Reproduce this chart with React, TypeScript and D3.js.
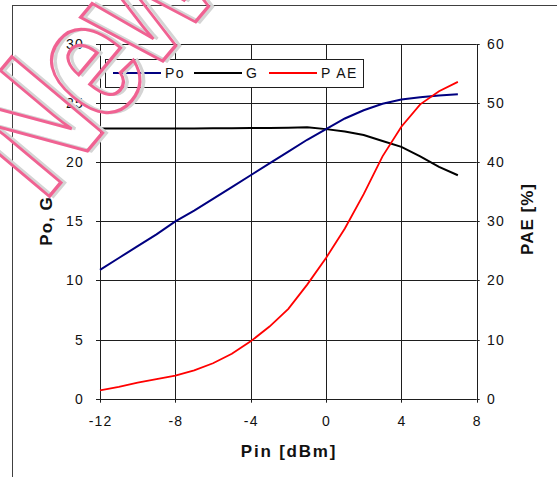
import React from "react";
import * as d3 from "d3";

// Input power sweep (dBm)
const pin = [-12, -11, -10, -9, -8, -7, -6, -5, -4, -3, -2, -1, 0, 1, 2, 3, 4, 5, 6, 7];
// Output power (dBm)
const po = [10.9, 11.9, 12.9, 13.9, 15.0, 15.9, 16.9, 17.9, 18.9, 19.9, 20.9, 21.9, 22.8, 23.7, 24.4, 24.95, 25.3, 25.5, 25.65, 25.75];
// Gain (dB)
const gain = [22.85, 22.85, 22.85, 22.85, 22.85, 22.85, 22.87, 22.88, 22.9, 22.9, 22.92, 22.95, 22.8, 22.6, 22.3, 21.8, 21.3, 20.5, 19.6, 18.9];
// Power-added efficiency (%)
const pae = [1.4, 2.0, 2.7, 3.3, 3.9, 4.8, 6.0, 7.6, 9.7, 12.2, 15.2, 19.3, 23.8, 28.8, 34.6, 41.0, 46.0, 49.8, 52.0, 53.6];

const xTicks = [-12, -8, -4, 0, 4, 8];
const leftTicks = [0, 5, 10, 15, 20, 25, 30];
const rightTicks = [0, 10, 20, 30, 40, 50, 60];

const legendItems = [
  { label: "Po", color: "#000080" },
  { label: "G", color: "#000000" },
  { label: "P AE", color: "#ff0000" },
];

const FONT = "'Liberation Sans', Arial, sans-serif";

export default function App() {
  const W = 557;
  const H = 477;
  const left = 100, right = 476.7, top = 44, bottom = 398.7;

  const x = d3.scaleLinear().domain([-12, 8]).range([left, right]);
  const yL = d3.scaleLinear().domain([0, 30]).range([bottom, top]);
  const yR = d3.scaleLinear().domain([0, 60]).range([bottom, top]);

  const lineL = d3.line<number>().x((_, i) => x(pin[i])).y((d) => yL(d));
  const lineR = d3.line<number>().x((_, i) => x(pin[i])).y((d) => yR(d));

  const snap = (v: number) => Math.round(v) + 0.5;
  const gridColor = "#1e1e1e";

  // stamp overlay: rotated outlined lettering
  const wmF = 172;
  const wmAngle = -50;
  const wmX = 130, wmY = 100;

  return (
    <svg
      width={W}
      height={H}
      style={{ position: "absolute", left: 0, top: 0, background: "#fff" }}
      fontFamily={FONT}
    >
      {/* outer chart frame */}
      <rect x={12.5} y={5.5} width={700} height={700} fill="none" stroke="#404040" strokeWidth={1} />

      {/* horizontal grid */}
      {leftTicks.map((t) => (
        <line key={"h" + t} x1={left - 4} x2={right} y1={snap(yL(t))} y2={snap(yL(t))} stroke={gridColor} strokeWidth={1} />
      ))}
      {/* right-axis ticks */}
      {rightTicks.map((t) => (
        <line key={"rt" + t} x1={right} x2={right + 3} y1={snap(yR(t))} y2={snap(yR(t))} stroke={gridColor} strokeWidth={1} />
      ))}
      {/* vertical grid */}
      {xTicks.map((t) => (
        <line key={"v" + t} x1={snap(x(t))} x2={snap(x(t))} y1={top} y2={bottom + 4} stroke={gridColor} strokeWidth={1} />
      ))}

      {/* left tick labels */}
      {leftTicks.map((t) => (
        <text key={"ll" + t} x={84} y={yL(t) + 5} textAnchor="end" fontSize={14} letterSpacing={1.2} fill="#111">
          {t}
        </text>
      ))}
      {/* right tick labels */}
      {rightTicks.map((t) => (
        <text key={"rl" + t} x={487} y={yR(t) + 5} textAnchor="start" fontSize={14} letterSpacing={1.2} fill="#111">
          {t}
        </text>
      ))}
      {/* bottom tick labels */}
      {xTicks.map((t) => (
        <text key={"xl" + t} x={x(t) + 0.6} y={426} textAnchor="middle" fontSize={14} letterSpacing={1.2} fill="#111">
          {t}
        </text>
      ))}

      {/* axis titles */}
      <text x={289} y={457} textAnchor="middle" fontSize={17} fontWeight="bold" letterSpacing={1.8} fill="#111">
        Pin [dBm]
      </text>
      <text
        transform={`translate(52,221) rotate(-90)`}
        textAnchor="middle"
        fontSize={17}
        fontWeight="bold"
        letterSpacing={1}
        fill="#111"
      >
        Po, G
      </text>
      <text
        transform={`translate(533,219) rotate(-90)`}
        textAnchor="middle"
        fontSize={17}
        fontWeight="bold"
        letterSpacing={1}
        fill="#111"
      >
        PAE [%]
      </text>

      {/* data series */}
      <path d={lineL(gain) || ""} fill="none" stroke="#000000" strokeWidth={2} />
      <path d={lineL(po) || ""} fill="none" stroke="#000080" strokeWidth={2} />
      <path d={lineR(pae) || ""} fill="none" stroke="#ff0000" strokeWidth={1.8} />

      {/* legend */}
      <rect x={105.5} y={59.5} width={258} height={28} fill="#fff" stroke="#1e1e1e" strokeWidth={1} />
      {legendItems.map((it, i) => {
        const lx = [113, 194, 269][i];
        return (
          <g key={it.label}>
            <line x1={lx} x2={lx + 48} y1={73} y2={73} stroke={it.color} strokeWidth={2} />
            <text x={lx + 52} y={78} fontSize={14} letterSpacing={1.5} fill="#111">
              {it.label}
            </text>
          </g>
        );
      })}

      {/* stamp overlay */}
      <g
        transform={`translate(${wmX},${wmY}) rotate(${wmAngle}) scale(0.82,1)`}
        fontSize={wmF}
        fontWeight="bold"
        letterSpacing={-8}
        textAnchor="middle"
      >
        <text x={3} y={3} fill="none" stroke="#d4d4d4" strokeWidth={3.5}>
          New
        </text>
        <text x={0} y={0} fill="none" stroke="#f06292" strokeWidth={3.4}>
          New
        </text>
      </g>
    </svg>
  );
}
